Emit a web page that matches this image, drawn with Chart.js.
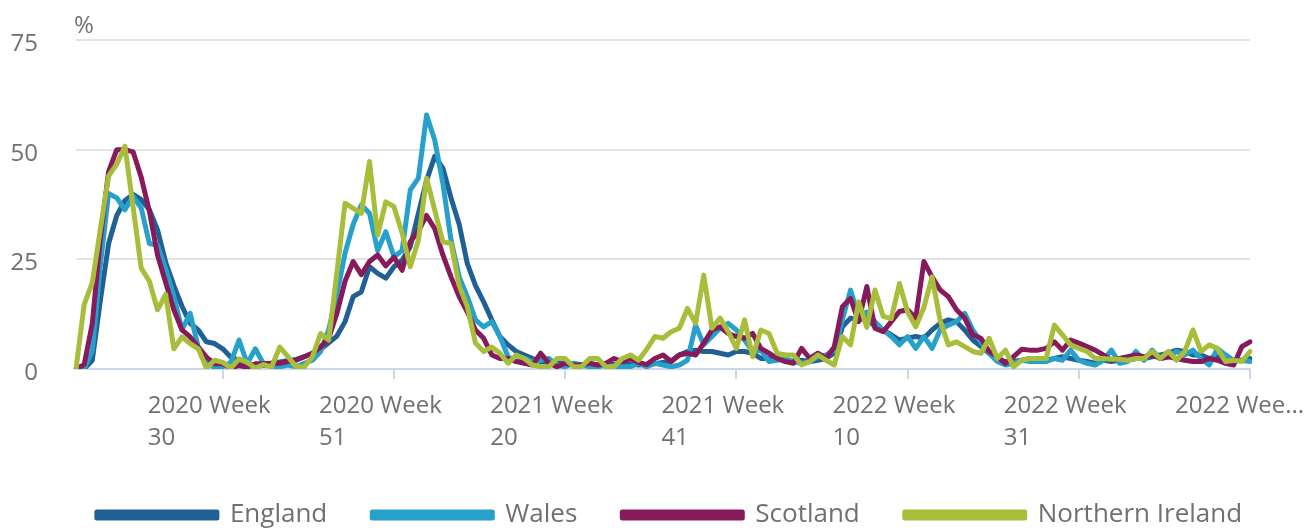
<!DOCTYPE html>
<html lang="en">
    <head>
        <meta charset="utf-8" />
        <script src="https://cdn.jsdelivr.net/npm/chart.js@4.4.1/dist/chart.umd.min.js"></script>
        <title>Weekly positivity by nation</title>
        <style>
            body { margin: 0; background: #fff; }
            #wrap { width: 1311px; height: 528px; }
        </style>
    </head>
    <body>
        <div id="wrap"><canvas id="grafico"></canvas></div>
        <script>
            // Semanas: 2020 W12 hasta 2022 W52
            const weeks = [];
            for (let w = 12; w <= 52; w++) weeks.push("2020 Week " + w);
            for (let w = 1; w <= 52; w++) weeks.push("2021 Week " + w);
            for (let w = 1; w <= 52; w++) weeks.push("2022 Week " + w);

            const shownWeeks = ["2020 Week 30", "2020 Week 51", "2021 Week 20", "2021 Week 41", "2022 Week 10", "2022 Week 31", "2022 Week 52"];
            const tickText = [["2020 Week", "30"], ["2020 Week", "51"], ["2021 Week", "20"], ["2021 Week", "41"], ["2022 Week", "10"], ["2022 Week", "31"], ["2022 Wee..."]];
            const yTicks = [0, 25, 50, 75];

            const england = [0, 0, 2, 15.8, 28.6, 35, 38.4, 39.8, 38.6, 36.3,
                31.7, 24.3, 19, 14.3, 10.4, 8.9, 6.2, 5.8, 4.6, 2.7,
                1.9, 1.2, 0.9, 0.8, 1.3, 1.6, 1.9, 2.2, 2.8, 3.6,
                4.5, 6, 7.5, 10.8, 16.5, 17.6, 23.3, 21.8, 20.7, 23.3,
                24.8, 27.9, 35.5, 43, 48.5, 45.8, 39, 33, 24, 19,
                15.3, 11.2, 7.4, 5.5, 4, 3.2, 2.4, 1.7, 1.5, 1.3,
                1.2, 1.1, 1, 1, 0.9, 0.9, 1, 1, 1.2, 0.9,
                1, 1.2, 1.5, 1.8, 3.2, 4, 4.3, 4, 4, 3.6,
                3.2, 4, 4, 3.6, 2.4, 2.4, 2.4, 2, 1.7, 2,
                1.7, 2, 2.4, 3.6, 9.6, 11.6, 11.2, 11.6, 9.6, 8.9,
                7.8, 6.6, 7, 7.4, 7, 8.9, 10.4, 11.2, 10.8, 8.9,
                6.6, 5.1, 3.6, 2.4, 1.7, 1.7, 2, 2.4, 2, 2,
                2.4, 2.8, 2.4, 2, 1.7, 1.3, 2, 1.7, 2, 2,
                2.4, 2.4, 2.8, 3.2, 3.6, 4.3, 4, 3.2, 3.2, 2.4,
                2.8, 2.4, 2, 2, 2.4];

            const wales = [0, 0, 4.2, 24, 40, 39, 36.3, 39.4, 36.7, 28.6,
                28.2, 22.8, 16.6, 8.9, 12.7, 5, 1.9, 0.2, 0.5, 1.5,
                6.6, 1.2, 4.6, 1.2, 0.5, 0.5, 0.9, 0.5, 1.3, 2,
                4, 9, 17, 26.4, 33, 37.4, 35.5, 27, 31.3, 25.6,
                27, 40.8, 43.5, 57.9, 52.2, 42.3, 29.4, 21, 16.5, 11.2,
                9.6, 10.8, 7.4, 2.8, 1.7, 2.4, 1.7, 2, 2.4, 0.9,
                0.5, 1.3, 0.9, 0.5, 0.5, 0.9, 0.5, 0.5, 0.5, 1.3,
                0.5, 1.3, 0.9, 0.5, 0.9, 2, 10, 5.5, 7.4, 9.3,
                10.4, 8.9, 6.6, 4, 4.3, 1.7, 2, 2.4, 1.7, 1.3,
                1.7, 2.8, 3.2, 4.3, 11.2, 18, 11.9, 13, 10.8, 8.9,
                7.4, 5.5, 7.4, 4.7, 7.4, 4.7, 8.9, 10, 10.8, 12.7,
                8.9, 6.2, 3.6, 1.7, 0.9, 1.3, 2, 1.7, 1.7, 1.7,
                2.4, 2, 4.3, 2, 1.3, 0.9, 2, 4.3, 1.3, 1.7,
                4, 2, 4.3, 2.4, 2.8, 4, 3.2, 4.3, 2.4, 0.9,
                4.7, 3.2, 2, 2, 1.7];

            const scotland = [0, 1, 10.4, 30, 45, 50, 50, 49.5, 43.7, 36,
                26, 19.7, 13.5, 8.9, 7.3, 5, 2.7, 1.2, 1.2, 0.2,
                0.8, 0.4, 1.2, 1.2, 1.3, 1.3, 1.7, 2, 2.8, 3.6,
                5, 7, 12.7, 20, 24.5, 21.5, 24.5, 26, 23.5, 25.5,
                22.5, 29, 31.5, 35, 32, 26, 21, 16.5, 13, 8.9,
                7, 3.2, 2.4, 2.4, 1.7, 1.3, 0.9, 3.6, 1.3, 0.5,
                1.3, 0.9, 0.9, 1.3, 0.9, 1.3, 2.4, 1.7, 2.4, 1.5,
                1, 2.4, 3.2, 1.7, 3.2, 3.6, 3.2, 5.9, 8.9, 9.6,
                8.1, 7.4, 7, 8.1, 4.7, 3.6, 2.4, 1.7, 1.3, 4.7,
                2.4, 3.6, 2.4, 5, 14.2, 16.1, 10.8, 18.8, 9.3, 8.5,
                10.8, 13.1, 13.5, 11.6, 24.5, 21, 18, 16.5, 13.5, 11.6,
                7.8, 7, 4, 2.8, 1.3, 2.8, 4.5, 4.3, 4.3, 4.7,
                6.2, 4.3, 6.6, 5.9, 5.1, 4.3, 3.2, 2, 2.4, 2.8,
                3.2, 2.8, 3.2, 2.4, 2.8, 2.4, 2, 1.7, 1.7, 2.4,
                2, 1.3, 0.9, 5.1, 6.2];

            const northernIreland = [0, 14.7, 19.7, 32, 44, 46.7, 50.8, 37, 23, 20,
                13.5, 17, 4.6, 7.3, 5.8, 4.6, 0.2, 2, 1.5, 0.2,
                2.3, 1.5, 0.2, 1, 0.5, 5, 2.8, 0.5, 0.5, 2.8,
                8.1, 6.6, 22, 37.8, 36.6, 35.5, 47.3, 30.5, 38.1, 37,
                31, 23.3, 29.4, 43.5, 36.2, 29, 28.6, 19, 14.2, 5.9,
                4, 5, 3.6, 1.3, 3.2, 2.4, 0.9, 0.5, 0.5, 2.4,
                2.4, 0.5, 0.5, 2.4, 2.4, 0.5, 0.5, 2.4, 3.2, 2,
                4.5, 7.4, 7, 8.5, 9.3, 13.8, 10.4, 21.4, 9.3, 11.6,
                8.5, 4.7, 11.2, 2.8, 8.9, 8.1, 3.6, 3.2, 3.2, 0.9,
                1.7, 3.2, 2, 0.9, 7.4, 5.5, 15.3, 9.5, 18, 12,
                11.5, 19.5, 13, 9.6, 14, 21, 11, 5.5, 6.2, 5.1,
                4, 3.6, 7, 2.4, 4.3, 0.5, 2, 2.4, 2.4, 2.4,
                10, 7.8, 5.5, 4.7, 4, 2.4, 2.4, 2.2, 2.2, 2,
                2.4, 2.4, 4, 2.4, 4, 2, 4, 8.9, 4, 5.5,
                4.7, 1.7, 2, 1.7, 4];

            const nombres = ["England", "Wales", "Scotland", "Northern Ireland"];
            const colores = ["#206095", "#27a0cc", "#871a5b", "#a8bd3a"];
            const series = [england, wales, scotland, northernIreland];

            const grey = "#707070";
            Chart.defaults.font.family = "'Open Sans', sans-serif";
            Chart.defaults.color = grey;

            // el "%" encima del eje y, y un pequeño corrimiento de la leyenda
            const extras = {
                id: "extras",
                afterLayout(chart) {
                    chart.legend.left += 14;
                    chart.legend.right += 14;
                },
                afterDraw(chart) {
                    const { ctx, chartArea } = chart;
                    ctx.save();
                    ctx.font = "24px 'Open Sans'";
                    ctx.fillStyle = grey;
                    ctx.textAlign = "left";
                    ctx.textBaseline = "alphabetic";
                    ctx.fillText("%", chartArea.left - 2, chartArea.top - 7);
                    ctx.restore();
                }
            };

            new Chart(document.getElementById("grafico").getContext("2d"), {
                type: "line",
                data: {
                    labels: weeks,
                    datasets: series.map((s, i) => ({
                        label: nombres[i],
                        data: s,
                        borderColor: colores[i],
                        backgroundColor: colores[i],
                        borderWidth: 5,
                        pointRadius: 0,
                        tension: 0,
                        borderJoinStyle: "round",
                        borderCapStyle: "round",
                        order: 4 - i
                    }))
                },
                options: {
                    responsive: true,
                    maintainAspectRatio: false,
                    animation: false,
                    layout: { padding: { left: 0, right: 0, top: 40, bottom: -10 } },
                    scales: {
                        x: {
                            offset: false,
                            grid: { drawOnChartArea: false, drawTicks: true, tickLength: 10, color: "#ccd6eb", lineWidth: 2 },
                            border: { color: "#ccd6eb", width: 2 },
                            ticks: {
                                autoSkip: false,
                                maxRotation: 0,
                                minRotation: 0,
                                align: "start",
                                labelOffset: -75,
                                padding: 11,
                                color: grey,
                                font: { size: 24, lineHeight: 1.33 },
                                callback: (value) => tickText[shownWeeks.indexOf(weeks[value])]
                            },
                            afterBuildTicks: (scale) => {
                                scale.ticks = scale.ticks.filter(t => shownWeeks.includes(weeks[t.value]));
                            },
                            afterFit: (scale) => {
                                scale.paddingLeft = 0;
                                scale.paddingRight = 61;
                                scale.height = 88;
                            }
                        },
                        y: {
                            min: 0,
                            max: 75,
                            afterBuildTicks: (scale) => {
                                scale.ticks = yTicks.map(v => ({ value: v }));
                            },
                            grid: { drawTicks: false, color: "#e3e3e3", lineWidth: 2 },
                            border: { display: false },
                            ticks: { padding: 38, labelOffset: 4, color: grey, font: { size: 24 } },
                            afterFit: (scale) => {
                                scale.width = 76;
                                scale.paddingTop = 0;
                                scale.paddingBottom = 0;
                            }
                        }
                    },
                    plugins: {
                        legend: {
                            position: "bottom",
                            labels: {
                                boxWidth: 120,
                                boxHeight: 6,
                                padding: 45,
                                color: grey,
                                font: { size: 26 },
                                sort: (a, b) => a.datasetIndex - b.datasetIndex
                            }
                        },
                        tooltip: { enabled: false }
                    }
                },
                plugins: [extras]
            });
        </script>
    </body>
</html>
